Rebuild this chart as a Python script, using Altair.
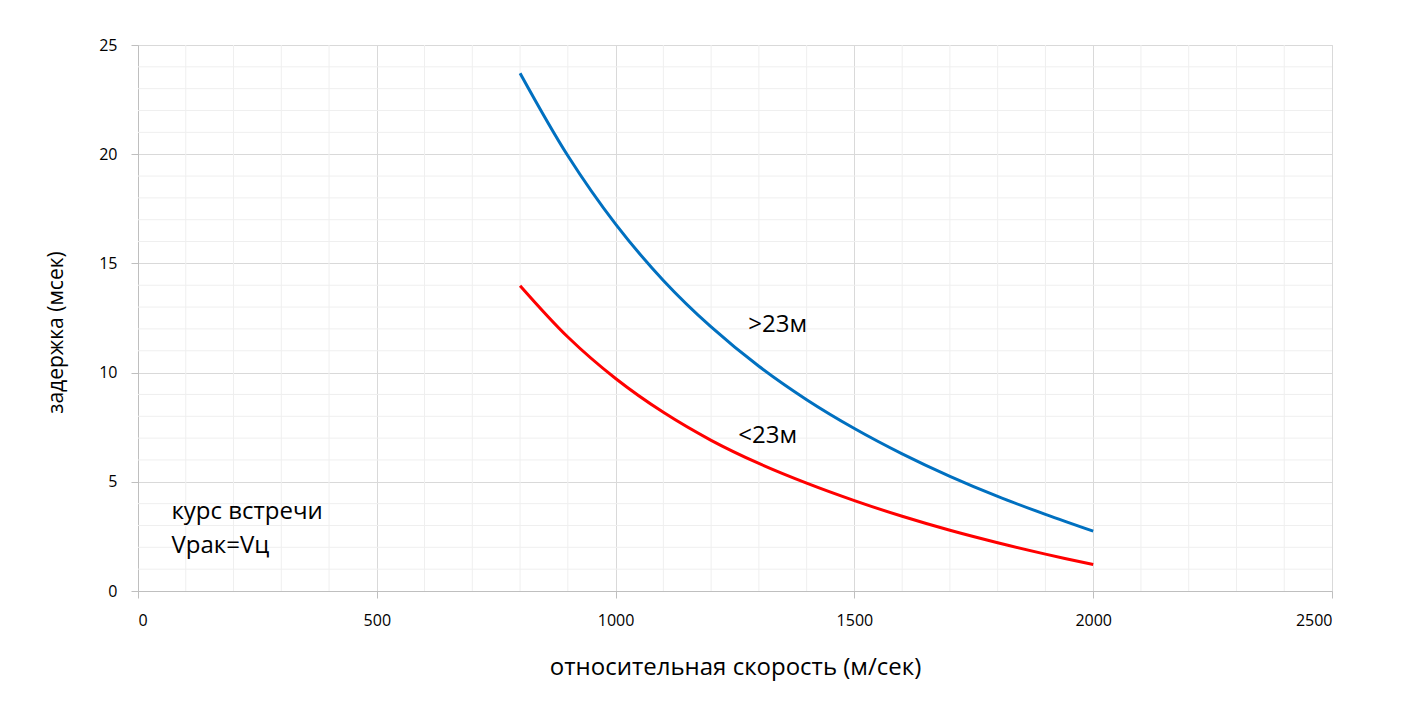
import altair as alt
import pandas as pd

# --- data ---
speed = [800, 900, 1000, 1100, 1200, 1300, 1400, 1500, 1600, 1700, 1800, 1900, 2000]
delay_over_23 = [23.71, 19.93, 16.80, 14.22, 12.09, 10.29, 8.76, 7.44, 6.28, 5.25, 4.33, 3.51, 2.74]
delay_under_23 = [13.98, 11.63, 9.73, 8.18, 6.90, 5.84, 4.94, 4.14, 3.42, 2.78, 2.21, 1.69, 1.21]

x_major = [0, 500, 1000, 1500, 2000, 2500]
y_major = [0, 5, 10, 15, 20, 25]
x_minor = [v for v in range(100, 2500, 100) if v % 500 != 0]
y_minor = [v for v in range(1, 25) if v % 5 != 0]

curve_labels = [">23м", "<23м"]
curve_label_x = [1278, 1257]
curve_label_y = [12.2, 7.1]

note_lines = ["курс встречи", "Vрак=Vц"]
note_x = [70, 70]
note_y = [3.6, 2.05]

FONT = "Open Sans"

df = pd.DataFrame({
    "speed": speed * 2,
    "delay": delay_over_23 + delay_under_23,
    "series": [">23м"] * len(speed) + ["<23м"] * len(speed),
})

xs = alt.Scale(domain=[0, 2500], nice=False)
ys = alt.Scale(domain=[0, 25], nice=False)

x_axis = alt.Axis(values=x_major, format="d", grid=True, gridColor="#d9d9d9", domainColor="#bfbfbf",
                  tickColor="#bfbfbf", tickSize=7, labelFontSize=16, labelPadding=14,
                  labelFont=FONT, labelColor="#000000", title="относительная скорость (м/сек)",
                  titleFont=FONT, titleFontSize=24, titleFontWeight="normal",
                  titleColor="#000000", titlePadding=27)
y_axis = alt.Axis(values=y_major, format="d", grid=True, gridColor="#d9d9d9", domainColor="#bfbfbf",
                  tickColor="#bfbfbf", tickSize=7, labelFontSize=16, labelPadding=14,
                  labelFont=FONT, labelColor="#000000", title="задержка (мсек)",
                  titleFont=FONT, titleFontSize=21, titleFontWeight="normal",
                  titleColor="#000000", titlePadding=32, titleY=287)

minor_v = alt.Chart(pd.DataFrame({"v": x_minor})).mark_rule(color="#efefef", strokeWidth=1).encode(
    x=alt.X("v:Q", scale=xs, axis=x_axis))
minor_h = alt.Chart(pd.DataFrame({"v": y_minor})).mark_rule(color="#efefef", strokeWidth=1).encode(
    y=alt.Y("v:Q", scale=ys, axis=y_axis))

lines = alt.Chart(df).mark_line(strokeWidth=3, interpolate="catmull-rom").encode(
    x=alt.X("speed:Q", scale=xs, axis=x_axis),
    y=alt.Y("delay:Q", scale=ys, axis=y_axis),
    color=alt.Color("series:N", scale=alt.Scale(domain=[">23м", "<23м"], range=["#0070c0", "#ff0000"]),
                    legend=None),
    detail="series:N",
)

lab = alt.Chart(pd.DataFrame({"t": curve_labels, "x": curve_label_x, "y": curve_label_y})).mark_text(
    align="left", baseline="middle", font=FONT, fontSize=24, color="#000000").encode(
    x=alt.X("x:Q", scale=xs), y=alt.Y("y:Q", scale=ys), text="t:N")

note = alt.Chart(pd.DataFrame({"t": note_lines, "x": note_x, "y": note_y})).mark_text(
    align="left", baseline="middle", font=FONT, fontSize=24, color="#000000").encode(
    x=alt.X("x:Q", scale=xs), y=alt.Y("y:Q", scale=ys), text="t:N")

chart = alt.layer(minor_v, minor_h, lines, lab, note).properties(
    width=1194, height=546,
    autosize=alt.AutoSizeParams(type="none"),
    padding={"left": 130, "top": 37, "right": 60, "bottom": 100},
).configure_view(stroke=None).configure(background="white")

chart.save("out.html", embed_options={"renderer": "svg", "actions": False})
